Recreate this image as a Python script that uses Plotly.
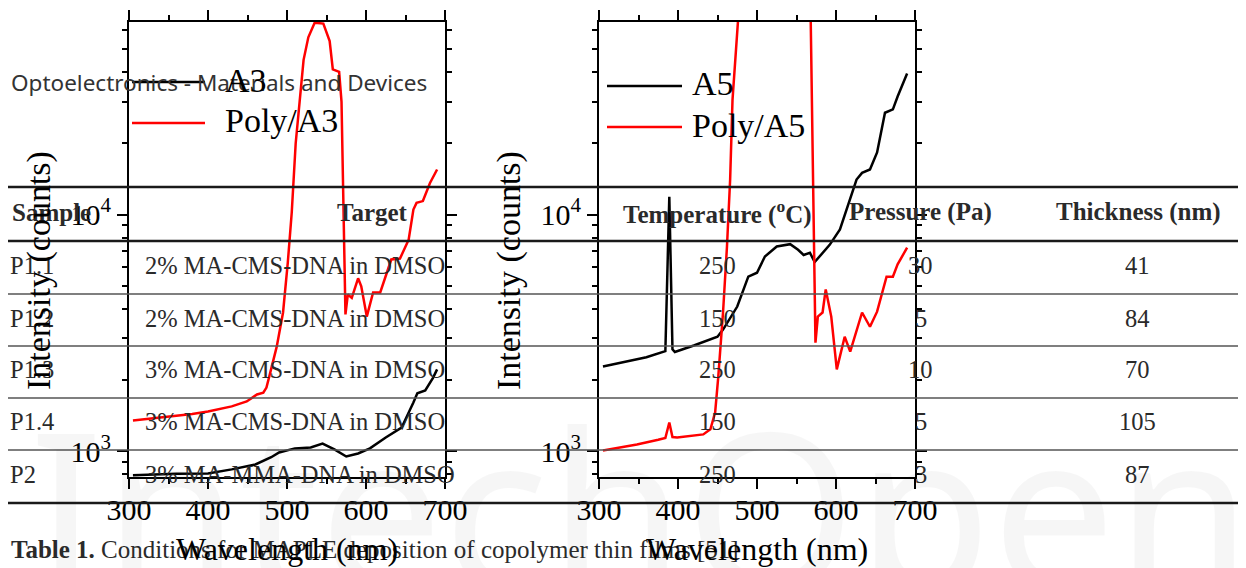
import numpy as np
import plotly.graph_objects as go

# ---- spectra (wavelength in nm, intensity in counts) ----
wl_a3 = [305, 330, 360, 400, 430, 460, 480, 490, 510, 530, 545, 560, 575, 590, 605,
         625, 645, 660, 665, 675, 685, 690]
int_a3 = [793, 800, 805, 807, 840, 881, 945, 990, 1030, 1040, 1080, 1020, 952, 980, 1030,
          1145, 1260, 1610, 1760, 1810, 2050, 2220]

wl_poly_a3 = [305, 330, 356, 380, 400, 430, 449, 462, 470, 474, 478, 487, 495, 501, 506,
              508, 511, 516, 521, 527, 535, 546, 554, 558, 566, 569, 571, 574, 577, 582,
              590, 594, 601, 609, 618, 626, 632, 643, 654, 660, 664, 672, 681, 690]
int_poly_a3 = [1350, 1380, 1405, 1440, 1475, 1550, 1625, 1740, 1770, 1860, 2100, 2770, 3860, 6270, 10200,
               13000, 20000, 30000, 45000, 56000, 64500, 64000, 54000, 41000, 40000, 30000, 12500, 3790, 4600, 4450,
               5380, 4980, 3710, 4690, 4690, 5690, 6460, 6520, 7830, 10500, 11200, 11400, 13600, 15500]

wl_a5 = [305, 330, 360, 384, 389, 393, 396, 420, 450, 457, 475, 489, 500, 510, 525, 542,
         552, 559, 567, 573, 592, 605, 618, 626, 633, 643, 652, 662, 672, 678, 690]
int_a5 = [2285, 2380, 2500, 2650, 11900, 2700, 2630, 2800, 3050, 3270, 4090, 5470, 5680, 6650, 7330, 7500,
          7100, 6750, 6900, 6300, 7450, 8650, 11570, 14060, 15000, 15500, 18300, 26900, 27800, 31500, 39400]

wl_poly_a5 = [305, 348, 375, 384, 389, 393, 399, 432, 441, 447, 451, 457, 462, 466, 469,
              476, 480, 565, 568, 571, 574, 577, 583, 587, 594, 601, 611, 618, 633, 643,
              652, 664, 672, 678, 690]
int_poly_a5 = [1010, 1070, 1120, 1140, 1325, 1150, 1145, 1180, 1240, 1460, 2070, 3860, 7330, 14060, 30500,
               66000, 120000, 120000, 66000, 11600, 2880, 3710, 3860, 4830, 3710, 2220, 3050, 2640, 3860, 3360,
               3890, 5470, 5470, 6160, 7250]

# ---- table text from the page behind the plots ----
table_header = ["Sample", "Target", "Temperature (<sup>o</sup>C)", "Pressure (Pa)", "Thickness (nm)"]
samples = ["P1.1", "P1.2", "P1.3", "P1.4", "P2"]
targets = ["2% MA-CMS-DNA in DMSO", "2% MA-CMS-DNA in DMSO", "3% MA-CMS-DNA in DMSO",
           "3% MA-CMS-DNA in DMSO", "3% MA-MMA-DNA in DMSO"]
temperatures = ["250", "150", "250", "150", "250"]
pressures = ["30", "5", "10", "5", "3"]
thicknesses = ["41", "84", "70", "105", "87"]

# the page body keeps an 8px margin, so the figure is 8px smaller and everything is
# positioned in window pixels minus that offset
OFF = 8
W, H = 1246 - OFF, 568 - OFF
SERIF = "Liberation Serif"
INK = "#2a2a2a"


def px(x):
    return (x - OFF) / W


def py(y):
    return 1 - (y - OFF) / H


def note(text, x, y, xanchor="center", size=24, color=INK, family=SERIF, **kw):
    # page-positioned text (x, y in window pixels)
    return dict(text=text, xref="paper", yref="paper", x=px(x), y=py(y),
                xanchor=xanchor, yanchor="middle", showarrow=False,
                font=dict(family=family, size=size, color=color), **kw)


def main():
    fig = go.Figure()

    # spectra, left panel (A3) and right panel (A5)
    fig.add_trace(go.Scatter(x=wl_a3, y=int_a3, name="A3", mode="lines",
                             line=dict(color="black", width=2.5), xaxis="x", yaxis="y"))
    fig.add_trace(go.Scatter(x=wl_poly_a3, y=int_poly_a3, name="Poly/A3", mode="lines",
                             line=dict(color="#ff0000", width=2.5), xaxis="x", yaxis="y"))
    fig.add_trace(go.Scatter(x=wl_a5, y=int_a5, name="A5", mode="lines",
                             line=dict(color="black", width=2.5), xaxis="x2", yaxis="y2"))
    fig.add_trace(go.Scatter(x=wl_poly_a5, y=int_poly_a5, name="Poly/A5", mode="lines",
                             line=dict(color="#ff0000", width=2.5), xaxis="x2", yaxis="y2"))

    minor_y = [800, 900] + [k * 1000 for k in range(2, 10)] + [k * 10000 for k in range(2, 7)]
    xax = dict(range=[300, 700], tick0=300, dtick=100, showline=True, linecolor="black",
               linewidth=2, mirror="ticks", ticks="outside", ticklen=10, tickwidth=2,
               tickcolor="black", showgrid=False, zeroline=False, automargin=False,
               ticklabelstandoff=-5,
               tickfont=dict(family=SERIF, size=30, color="black"),
               minor=dict(dtick=50, ticks="outside", ticklen=5, tickwidth=2, tickcolor="black"))
    yax = dict(type="log", range=[np.log10(780), np.log10(65000)], domain=[py(477), py(22)],
               tickmode="array", tickvals=[1000, 10000],
               ticktext=["10<sup>3</sup>", "10<sup>4</sup>"],
               showline=True, linecolor="black", linewidth=2, mirror="ticks",
               ticks="outside", ticklen=10, tickwidth=2, tickcolor="black",
               showgrid=False, zeroline=False, automargin=False,
               tickfont=dict(family=SERIF, size=30, color="black"),
               minor=dict(tickmode="array", tickvals=minor_y, ticks="outside",
                          ticklen=5, tickwidth=2, tickcolor="black"))

    fig.update_layout(
        width=W, height=H, autosize=False,
        margin=dict(l=0, r=0, t=0, b=0, pad=0),
        paper_bgcolor="white", plot_bgcolor="rgba(0,0,0,0)",
        showlegend=False,
        xaxis=dict(xax, domain=[px(129), px(445)], anchor="y"),
        yaxis=dict(yax, anchor="x"),
        xaxis2=dict(xax, domain=[px(599), px(915)], anchor="y2"),
        yaxis2=dict(yax, anchor="x2"),
    )

    ann = []
    # faint publisher watermark
    ann.append(note("IntechOpen", 640, 505, size=220, family="Noto Sans", color="rgba(0,0,0,0.035)"))

    # page header and caption
    ann.append(note("Optoelectronics - Materials and Devices", 9, 83, xanchor="left",
                    size=22.5, family="Noto Sans", color="#333333"))
    ann.append(note("<b>Table 1.</b> Conditions for MAPLE deposition of copolymer thin films [51]",
                    9, 549, xanchor="left", size=25))

    # table header
    head_x = [(10, "left"), (410, "right"), (717, "center"), (921, "center"), (1138, "center")]
    for text, (hx, anchor) in zip(table_header, head_x):
        ann.append(note(f"<b>{text}</b>", hx, 212, xanchor=anchor, size=25))

    # table rows
    row_y = [266, 318, 369, 421, 474]
    for i, ry in enumerate(row_y):
        cells = [(samples[i], 8, "left"), (targets[i], 143, "left"), (temperatures[i], 717, "center"),
                 (pressures[i], 921, "center"), (thicknesses[i], 1137, "center")]
        for text, cx, anchor in cells:
            ann.append(note(text, cx, ry, xanchor=anchor, size=24.5))

    # axis titles
    for cx in (287, 757):
        ann.append(note("Wavelength (nm)", cx, 549, size=32, color="black"))
    for cx in (39, 509):
        ann.append(note("Intensity (counts)", cx, 271, size=34, color="black", textangle=-90))

    # legends drawn as sample line + label
    shapes = []
    legends = [("A3", "black", 132, 205, 223, 82), ("Poly/A3", "#ff0000", 132, 205, 223, 123),
               ("A5", "black", 607, 682, 690, 86), ("Poly/A5", "#ff0000", 607, 682, 690, 127)]
    for name, color, x0, x1, tx, ly in legends:
        shapes.append(dict(type="line", xref="paper", yref="paper", x0=px(x0), x1=px(x1),
                           y0=py(ly), y1=py(ly), line=dict(color=color, width=2.5)))
        ann.append(note(name, tx, ly - 2, xanchor="left", size=34, color="black"))

    # table rules: thick for frame/header, thin grey between rows
    for ly in (187, 241, 503):
        shapes.append(dict(type="line", xref="paper", yref="paper", x0=px(8), x1=1,
                           y0=py(ly), y1=py(ly), line=dict(color="#1a1a1a", width=2.5)))
    for ly in (294, 346, 398, 450):
        shapes.append(dict(type="line", xref="paper", yref="paper", x0=px(8), x1=1,
                           y0=py(ly), y1=py(ly), line=dict(color="#555555", width=1.5)))

    fig.update_layout(annotations=ann, shapes=shapes)

    fig.write_html("out.html")
    print("Plot has been saved to HTML file.")


# call main script
if __name__ == "__main__": main()
